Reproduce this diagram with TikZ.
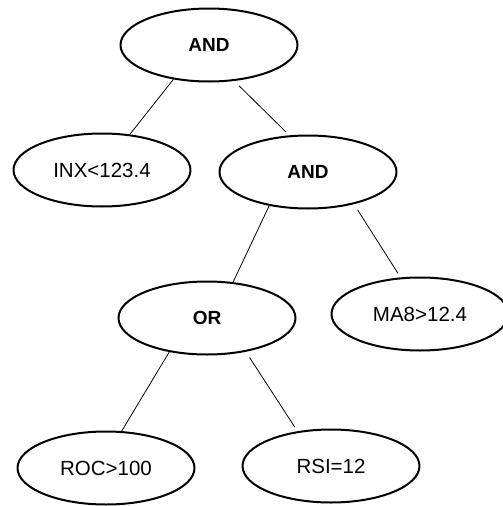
\documentclass[tikz,border=0pt]{standalone}
\usepackage{fontspec}
\setmainfont{Liberation Sans}
\usetikzlibrary{shapes.geometric}
\begin{document}
\begin{tikzpicture}[x=1pt, y=-1pt, line join=round, line cap=round,
		cond/.style={ellipse, draw, line width=2pt, inner sep=0pt, minimum width=177pt, minimum height=73pt, font=\fontsize{20.5}{24}\selectfont},
		oper/.style={cond, font=\fontsize{19}{22}\selectfont\bfseries},
		branch/.style={line width=0.8pt, shorten <=7pt, shorten >=5pt}]
		\useasboundingbox (0,0) rectangle (503,506);
		\node[oper] (and1) at (209,45) {AND};
		\node[cond] (inx) at (102,170) {INX<123.4};
		\node[oper] (and2) at (308,172) {AND};
		\node[oper] (or) at (207,318) {OR};
		\node[cond] (ma8) at (420,314) {MA8>12.4};
		\node[cond] (roc) at (106,468) {ROC>100};
		\node[cond] (rsi) at (331,466) {RSI=12};
		\draw[branch] (and1.224)--(inx.52) (and1.305)--(and2.117);
		\draw[branch] (and2.221)--(or.54) (and2.325)--(ma8.118);
		\draw[branch] (or.222)--(roc.67) (or.319)--(rsi.134);
\end{tikzpicture}
\end{document}
